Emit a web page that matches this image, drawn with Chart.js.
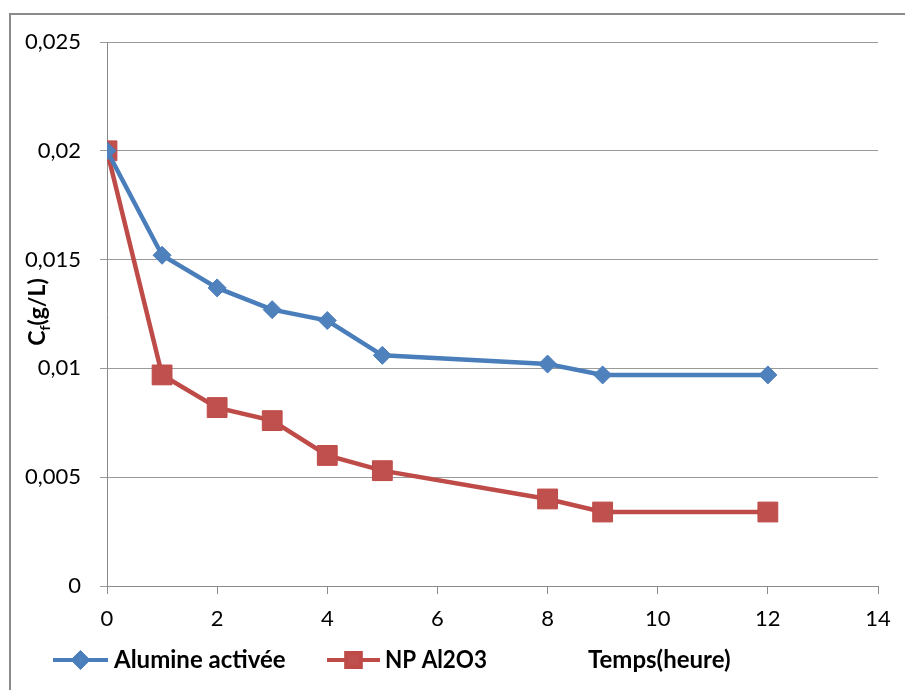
<!DOCTYPE html>
<html>
<head>
<meta charset="utf-8">
<script src="https://cdn.jsdelivr.net/npm/chart.js@4"></script>
<style>
  body { margin: 0; background: #fff; }
  canvas { display: block; }
</style>
</head>
<body>
<canvas id="chart" width="905" height="690"></canvas>
<script>
// data
const hours = [0, 1, 2, 3, 4, 5, 8, 9, 12];
const alumine = [0.0200, 0.0152, 0.0137, 0.0127, 0.0122, 0.0106, 0.0102, 0.0097, 0.0097];
const npAl2O3 = [0.0200, 0.0097, 0.0082, 0.0076, 0.0060, 0.0053, 0.0040, 0.0034, 0.0034];
const seriesNames = ['Alumine activée', 'NP Al2O3'];
const yTickLabels = ['0', '0,005', '0,01', '0,015', '0,02', '0,025'];
const xTitle = 'Temps(heure)';

const FONT = 'Lato, "Open Sans", sans-serif';

function pts(xs, ys) { return xs.map((x, i) => ({ x: x, y: ys[i] })); }

// frame of the excel picture (cropped on right and bottom)
const framePlugin = {
    id: 'frame',
    beforeDraw(chart) {
        const ctx = chart.ctx;
        ctx.save();
        ctx.strokeStyle = '#8a8a8a';
        ctx.lineWidth = 2;
        ctx.beginPath();
        ctx.moveTo(10, 700);
        ctx.lineTo(10, 14);
        ctx.lineTo(910, 14);
        ctx.stroke();
        ctx.restore();
    }
};

// y title with subscript, legend row and x title
const textPlugin = {
    id: 'texts',
    afterDraw(chart) {
        const ctx = chart.ctx;
        ctx.save();

        // y axis title C_f(g/L)
        ctx.translate(38, 312);
        ctx.rotate(-Math.PI / 2);
        ctx.fillStyle = '#000';
        ctx.textBaseline = 'middle';
        const big = 'bold 23px ' + FONT, small = 'bold 14px ' + FONT;
        ctx.font = big; const wC = ctx.measureText('C').width, wR = ctx.measureText('(g/L)').width;
        ctx.font = small; const wF = ctx.measureText('f').width;
        let x = -(wC + wF + wR) / 2;
        ctx.font = big; ctx.fillText('C', x, 0); x += wC;
        ctx.font = small; ctx.fillText('f', x, 7); x += wF;
        ctx.font = big; ctx.fillText('(g/L)', x, 0);
        ctx.restore();

        // legend
        const items = [
            { ds: chart.data.datasets[0], x0: 53, x1: 108, tx: 114, tw: 174, r: 7 },
            { ds: chart.data.datasets[1], x0: 327, x1: 380, tx: 385, tw: 102, r: 10 }
        ];
        const ly = 660;
        items.forEach(it => {
            ctx.save();
            ctx.strokeStyle = it.ds.borderColor;
            ctx.lineWidth = 4;
            ctx.beginPath();
            ctx.moveTo(it.x0, ly);
            ctx.lineTo(it.x1, ly);
            ctx.stroke();
            Chart.helpers.drawPoint(ctx, {
                pointStyle: it.ds.pointStyle, radius: it.r, rotation: 0, borderWidth: 1
            }, (it.x0 + it.x1) / 2, ly);
            ctx.fillStyle = it.ds.pointBackgroundColor;
            ctx.strokeStyle = it.ds.pointBorderColor;
            ctx.fill();
            ctx.stroke();
            ctx.fillStyle = '#000';
            ctx.font = 'bold 24px ' + FONT;
            ctx.textBaseline = 'middle';
            ctx.fillText(it.ds.label, it.tx, ly, it.tw);
            ctx.restore();
        });

        ctx.save();
        ctx.fillStyle = '#000';
        ctx.font = 'bold 24px ' + FONT;
        ctx.textBaseline = 'middle';
        ctx.fillText(xTitle, 588, ly, 154);
        ctx.restore();
    }
};

new Chart(document.getElementById('chart'), {
    type: 'line',
    data: {
        datasets: [
            {
                label: seriesNames[0],
                data: pts(hours, alumine),
                borderColor: '#4a7ebb',
                borderWidth: 4.5,
                pointStyle: 'rectRot',
                pointRadius: 9,
                pointBackgroundColor: '#4f81bd',
                pointBorderColor: '#4a7ebb',
                pointBorderWidth: 1,
                tension: 0
            },
            {
                label: seriesNames[1],
                data: pts(hours, npAl2O3),
                borderColor: '#be4b48',
                borderWidth: 4.5,
                pointStyle: 'rect',
                pointRadius: 14,
                pointBackgroundColor: '#c0504d',
                pointBorderColor: '#be4b48',
                pointBorderWidth: 1,
                tension: 0
            }
        ]
    },
    options: {
        responsive: false,
        animation: false,
        layout: { padding: { top: 42, right: 27, left: 0, bottom: 0 } },
        plugins: { legend: { display: false }, tooltip: { enabled: false } },
        scales: {
            x: {
                type: 'linear',
                min: 0, max: 14,
                afterFit(scale) { scale.height = 104; },
                ticks: { stepSize: 2, color: '#000', font: { family: FONT, size: 22 }, padding: 12, maxRotation: 0 },
                grid: { drawOnChartArea: false, drawTicks: true, tickLength: 8, color: '#8a8a8a' },
                border: { color: '#8a8a8a', width: 1 }
            },
            y: {
                min: 0, max: 0.025,
                afterFit(scale) { scale.width = 107; },
                afterBuildTicks(scale) {
                    scale.ticks = yTickLabels.map((t, i) => ({ value: i * 0.005 }));
                },
                ticks: {
                    color: '#000', font: { family: FONT, size: 22 }, padding: 19,
                    callback: (v, i) => yTickLabels[i]
                },
                grid: { color: '#9a9a9a', tickLength: 7 },
                border: { color: '#8a8a8a', width: 1 }
            }
        }
    },
    plugins: [framePlugin, textPlugin]
});
</script>
</body>
</html>
